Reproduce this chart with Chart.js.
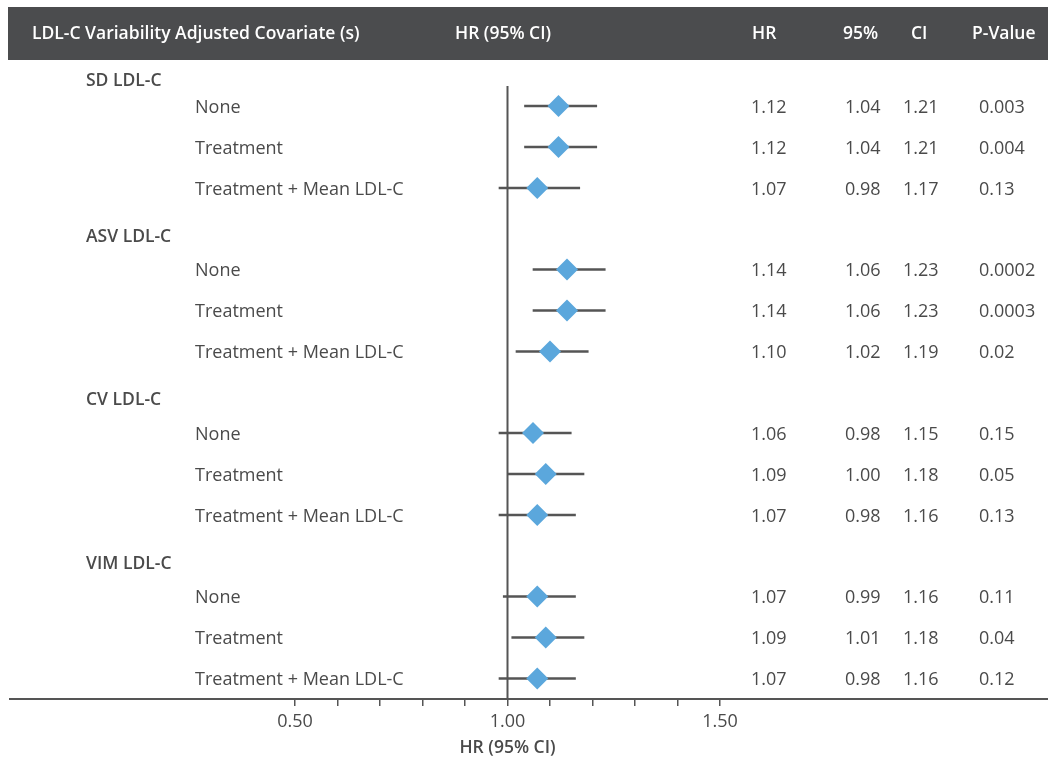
<!DOCTYPE html>
<html>
<head>
<meta charset="utf-8">
<title>LDL-C variability forest plot</title>
<script src="https://cdn.jsdelivr.net/npm/chart.js"></script>
<style>
    html, body { margin: 0; padding: 0; background: #fff; }
    #wrap { width: 1048px; height: 760px; }
</style>
</head>
<body>
<div id="wrap"><canvas id="forestChart" width="1048" height="760"></canvas></div>
<script>
// Data
const groups = ['SD LDL-C', 'ASV LDL-C', 'CV LDL-C', 'VIM LDL-C'];
const covariates = ['None', 'Treatment', 'Treatment + Mean LDL-C'];
const hrValues = [1.12, 1.12, 1.07, 1.14, 1.14, 1.10, 1.06, 1.09, 1.07, 1.07, 1.09, 1.07];
const ciLow = [1.04, 1.04, 0.98, 1.06, 1.06, 1.02, 0.98, 1.00, 0.98, 0.99, 1.01, 0.98];
const ciHigh = [1.21, 1.21, 1.17, 1.23, 1.23, 1.19, 1.15, 1.18, 1.16, 1.16, 1.18, 1.16];
const pValues = ['0.003', '0.004', '0.13', '0.0002', '0.0003', '0.02', '0.15', '0.05', '0.13', '0.11', '0.04', '0.12'];
const xTicks = [0.5, 0.6, 0.7, 0.8, 0.9, 1.0, 1.1, 1.2, 1.3, 1.4, 1.5];
const xTickLabels = ['0.50', '', '', '', '', '1.00', '', '', '', '', '1.50'];

// layout of rows (vertical scale units)
const FIRST_ROW = 20, GROUP_STEP = 163.5, ROW_STEP = 41, Y_MAX = 613;
function rowPos(g, i) { return FIRST_ROW + g * GROUP_STEP + i * ROW_STEP; }
function headerPos(g) { return rowPos(g, 0) - (g === 0 ? 26 : 34); }

const FONT = '"Open Sans", "Noto Sans", sans-serif';
const TEXT = '#4a4a4a';
const AXIS = '#555555';
const TEXT_SHIFT = 1.5; // glyphs sit a little high with 'middle' baseline

const ciData = [], hrData = [];
hrValues.forEach(function(v, k) {
    const g = Math.floor(k / covariates.length), i = k % covariates.length;
    ciData.push({ x: [ciLow[k], ciHigh[k]], y: rowPos(g, i) });
    hrData.push({ x: v, y: rowPos(g, i) });
});

const tablePlugin = {
    id: 'tableText',
    beforeDraw: function(chart) {
        const ctx = chart.ctx;
        ctx.save();
        ctx.fillStyle = '#4b4c4e';
        ctx.fillRect(8, 7, 1040, 53);
        ctx.restore();
    },
    afterDraw: function(chart) {
        const ctx = chart.ctx, ys = chart.scales.y, area = chart.chartArea;
        ctx.save();
        // axis line runs across the full width
        ctx.strokeStyle = AXIS;
        ctx.lineWidth = 2;
        ctx.beginPath();
        ctx.moveTo(9, area.bottom);
        ctx.lineTo(1048, area.bottom);
        ctx.stroke();

        ctx.textBaseline = 'middle';
        ctx.fillStyle = '#ffffff';
        ctx.font = '600 17.5px ' + FONT;
        ctx.textAlign = 'left';
        ctx.fillText('LDL-C Variability Adjusted Covariate (s)', 32, 34);
        ctx.fillText('HR (95% CI)', 455, 34);
        ctx.fillText('HR', 752, 34);
        ctx.fillText('95%', 843, 34);
        ctx.fillText('CI', 911, 34);
        ctx.fillText('P-Value', 972, 34);

        ctx.fillStyle = TEXT;
        groups.forEach(function(name, g) {
            ctx.font = '600 17.5px ' + FONT;
            ctx.fillText(name, 86, ys.getPixelForValue(headerPos(g)) + TEXT_SHIFT);
            ctx.font = '18px ' + FONT;
            covariates.forEach(function(c, i) {
                const k = g * covariates.length + i;
                const py = ys.getPixelForValue(rowPos(g, i)) + TEXT_SHIFT;
                ctx.fillText(c, 195, py);
                ctx.fillText(hrValues[k].toFixed(2), 751, py);
                ctx.fillText(ciLow[k].toFixed(2), 845, py);
                ctx.fillText(ciHigh[k].toFixed(2), 903, py);
                ctx.fillText(pValues[k], 979, py);
            });
        });
        ctx.restore();
    }
};

new Chart(document.getElementById('forestChart').getContext('2d'), {
    type: 'scatter',
    data: {
        datasets: [
            {
                type: 'line',
                label: 'Reference',
                data: [{ x: 1, y: 0 }, { x: 1, y: Y_MAX }],
                borderColor: AXIS,
                borderWidth: 2,
                pointRadius: 0,
                order: 3
            },
            {
                type: 'bar',
                label: '95% CI',
                indexAxis: 'y',
                data: ciData,
                backgroundColor: AXIS,
                borderWidth: 0,
                barThickness: 2,
                order: 2
            },
            {
                type: 'scatter',
                label: 'HR',
                data: hrData,
                pointStyle: 'rectRot',
                pointRadius: 11,
                pointHoverRadius: 11,
                backgroundColor: '#5ba7dc',
                borderColor: '#5ba7dc',
                borderWidth: 0,
                order: 1
            }
        ]
    },
    options: {
        responsive: false,
        animation: false,
        events: [],
        layout: {
            padding: { left: 295, right: 328, top: 86, bottom: 0 }
        },
        plugins: {
            legend: { display: false },
            tooltip: { enabled: false }
        },
        scales: {
            x: {
                type: 'linear',
                min: 0.5,
                max: 1.5,
                offset: false,
                afterBuildTicks: function(scale) {
                    scale.ticks = xTicks.map(function(v) { return { value: v }; });
                },
                afterFit: function(scale) {
                    scale.height = 61;
                },
                ticks: {
                    autoSkip: false,
                    maxRotation: 0,
                    padding: 5,
                    color: TEXT,
                    font: { family: FONT, size: 18 },
                    callback: function(value, index) {
                        return xTickLabels[index];
                    }
                },
                grid: {
                    drawOnChartArea: false,
                    drawTicks: true,
                    tickLength: 7,
                    color: AXIS,
                    lineWidth: 1.5
                },
                border: { color: AXIS, width: 2 },
                title: {
                    display: true,
                    text: 'HR (95% CI)',
                    color: TEXT,
                    font: { family: FONT, size: 17.5, weight: '600' },
                    padding: { top: 0, bottom: 1 }
                }
            },
            y: {
                type: 'linear',
                display: false,
                reverse: true,
                offset: false,
                grid: { offset: false },
                min: 0,
                max: Y_MAX
            }
        }
    },
    plugins: [tablePlugin]
});
</script>
</body>
</html>
